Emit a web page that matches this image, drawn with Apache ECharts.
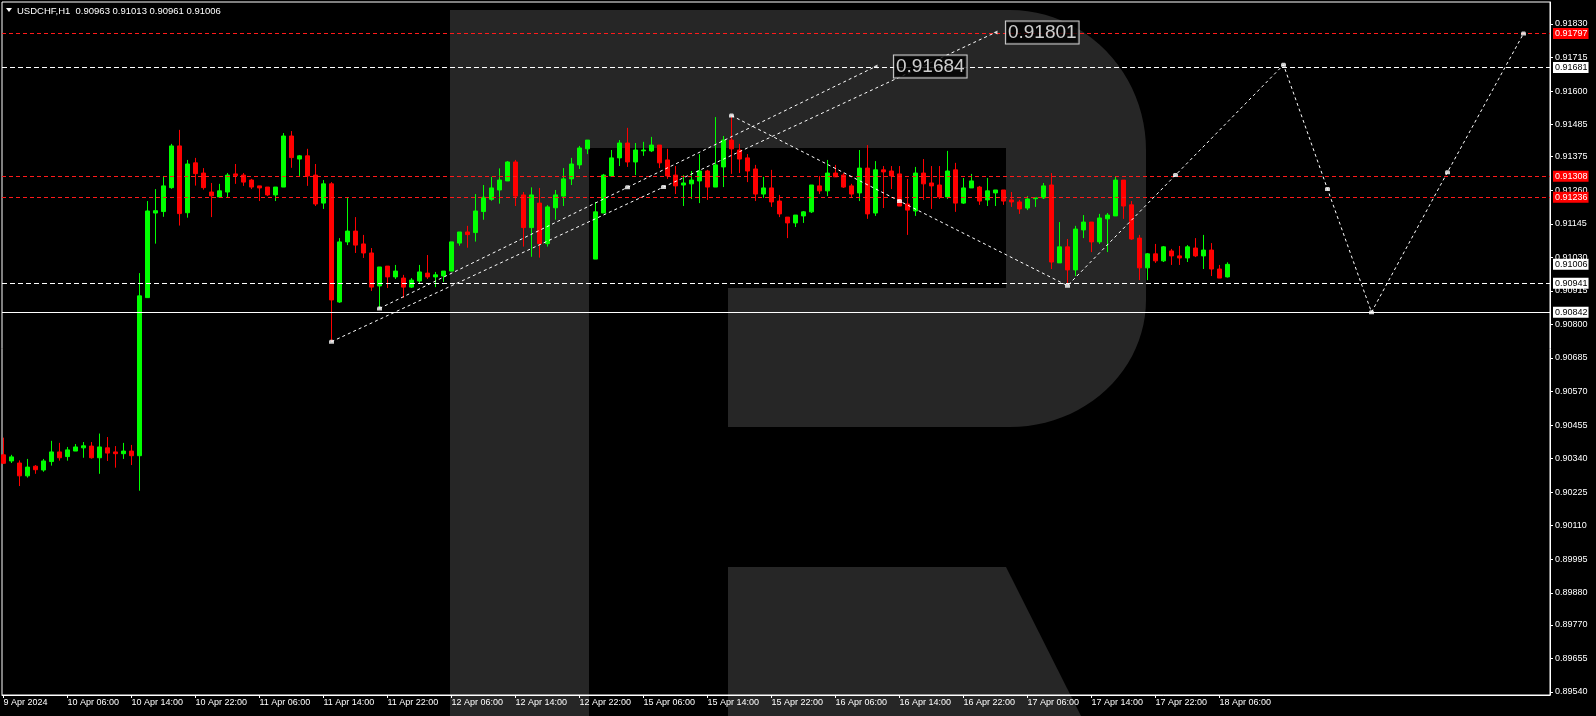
<!DOCTYPE html>
<html><head><meta charset="utf-8">
<script src="https://cdn.jsdelivr.net/npm/echarts@6/dist/echarts.min.js"></script>
<style>html,body{margin:0;padding:0;background:#000;}#c{width:1596px;height:716px;}</style>
</head><body><div id="c"></div>
<script>
// ---------- data ----------
const symbolName = 'USDCHF,H1';
const xTickLabels = ['9 Apr 2024','10 Apr 06:00','10 Apr 14:00','10 Apr 22:00','11 Apr 06:00','11 Apr 14:00','11 Apr 22:00','12 Apr 06:00','12 Apr 14:00','12 Apr 22:00','15 Apr 06:00','15 Apr 14:00','15 Apr 22:00','16 Apr 06:00','16 Apr 14:00','16 Apr 22:00','17 Apr 06:00','17 Apr 14:00','17 Apr 22:00','18 Apr 06:00'];
const xTickStep = 8; // one label every 8 hourly bars
const yTickLabels = ['0.91830','0.91715','0.91600','0.91485','0.91375','0.91260','0.91145','0.91030','0.90915','0.90800','0.90685','0.90570','0.90455','0.90340','0.90225','0.90110','0.89995','0.89880','0.89770','0.89655','0.89540'];
// hourly bars [open, high, low, close]
const bars = [
[0.90353,0.90412,0.90322,0.90324],[0.90332,0.90353,0.90325,0.90346],[0.90325,0.90334,0.90246,0.90281],[0.90281,0.90339,0.90275,0.90311],
[0.90314,0.90318,0.90288,0.90302],[0.90301,0.90339,0.90295,0.90332],[0.90330,0.90401,0.90316,0.90363],[0.90363,0.90394,0.90333,0.90343],
[0.90347,0.90380,0.90333,0.90370],[0.90366,0.90390,0.90366,0.90380],[0.90377,0.90397,0.90343,0.90384],[0.90383,0.90397,0.90340,0.90343],
[0.90343,0.90426,0.90288,0.90380],[0.90377,0.90414,0.90332,0.90359],[0.90363,0.90383,0.90309,0.90357],[0.90357,0.90394,0.90339,0.90366],
[0.90366,0.90387,0.90318,0.90350],[0.90350,0.90976,0.90230,0.90898],[0.90892,0.91223,0.90892,0.91189],[0.91182,0.91264,0.91077,0.91190],
[0.91187,0.91309,0.91169,0.91275],[0.91269,0.91419,0.91265,0.91412],[0.91412,0.91467,0.91139,0.91180],[0.91183,0.91364,0.91166,0.91350],
[0.91354,0.91371,0.91276,0.91317],[0.91319,0.91336,0.91262,0.91269],[0.91254,0.91285,0.91168,0.91241],[0.91237,0.91282,0.91237,0.91258],
[0.91254,0.91319,0.91237,0.91312],[0.91316,0.91350,0.91282,0.91310],[0.91312,0.91319,0.91275,0.91288],[0.91295,0.91299,0.91264,0.91271],
[0.91275,0.91275,0.91223,0.91268],[0.91271,0.91271,0.91240,0.91244],[0.91244,0.91271,0.91223,0.91271],[0.91271,0.91456,0.91271,0.91446],
[0.91446,0.91463,0.91337,0.91372],[0.91367,0.91381,0.91309,0.91378],[0.91378,0.91402,0.91275,0.91309],[0.91312,0.91350,0.91206,0.91213],
[0.91216,0.91295,0.91196,0.91282],[0.91282,0.91288,0.90741,0.90884],[0.90877,0.91096,0.90874,0.91083],[0.91083,0.91234,0.91072,0.91120],
[0.91120,0.91168,0.91045,0.91072],[0.91076,0.91107,0.91028,0.91045],[0.91045,0.91062,0.90915,0.90928],[0.90932,0.90997,0.90856,0.90997],
[0.91000,0.91000,0.90925,0.90963],[0.90963,0.91004,0.90956,0.90983],[0.90959,0.90970,0.90891,0.90928],[0.90928,0.90959,0.90925,0.90952],
[0.90949,0.91004,0.90942,0.90980],[0.90976,0.91038,0.90956,0.90963],[0.90963,0.90980,0.90928,0.90970],[0.90966,0.90983,0.90946,0.90983],
[0.90983,0.91083,0.90983,0.91083],[0.91079,0.91117,0.91070,0.91117],[0.91117,0.91138,0.91063,0.91108],[0.91115,0.91247,0.91084,0.91189],
[0.91187,0.91278,0.91159,0.91236],[0.91229,0.91306,0.91224,0.91268],[0.91261,0.91335,0.91214,0.91295],[0.91292,0.91360,0.91292,0.91357],
[0.91357,0.91364,0.91206,0.91240],[0.91244,0.91254,0.91067,0.91132],[0.91132,0.91270,0.91032,0.91244],[0.91216,0.91268,0.91029,0.91077],
[0.91077,0.91209,0.91067,0.91203],[0.91200,0.91261,0.91159,0.91244],[0.91240,0.91336,0.91206,0.91299],[0.91299,0.91371,0.91278,0.91350],
[0.91347,0.91412,0.91333,0.91405],[0.91402,0.91432,0.91384,0.91432],[0.91024,0.91220,0.91024,0.91186],[0.91182,0.91316,0.91182,0.91312],
[0.91309,0.91398,0.91309,0.91371],[0.91371,0.91432,0.91343,0.91422],[0.91422,0.91474,0.91340,0.91357],[0.91357,0.91422,0.91312,0.91398],
[0.91395,0.91426,0.91378,0.91398],[0.91395,0.91443,0.91391,0.91415],[0.91415,0.91415,0.91336,0.91354],[0.91364,0.91402,0.91299,0.91309],
[0.91312,0.91343,0.91247,0.91275],[0.91278,0.91312,0.91206,0.91285],[0.91282,0.91326,0.91230,0.91295],[0.91292,0.91384,0.91216,0.91326],
[0.91326,0.91330,0.91227,0.91271],[0.91271,0.91511,0.91271,0.91347],[0.91340,0.91446,0.91271,0.91432],[0.91432,0.91515,0.91316,0.91402],
[0.91398,0.91419,0.91319,0.91367],[0.91371,0.91384,0.91288,0.91326],[0.91333,0.91347,0.91223,0.91247],[0.91247,0.91306,0.91234,0.91268],
[0.91268,0.91330,0.91203,0.91220],[0.91223,0.91244,0.91168,0.91179],[0.91168,0.91168,0.91096,0.91148],[0.91148,0.91175,0.91134,0.91175],
[0.91172,0.91189,0.91148,0.91186],[0.91186,0.91278,0.91182,0.91278],[0.91275,0.91309,0.91247,0.91258],[0.91258,0.91364,0.91240,0.91319],
[0.91319,0.91347,0.91306,0.91306],[0.91312,0.91319,0.91268,0.91271],[0.91275,0.91282,0.91237,0.91247],[0.91251,0.91398,0.91223,0.91336],
[0.91336,0.91415,0.91162,0.91179],[0.91182,0.91360,0.91172,0.91330],[0.91330,0.91343,0.91199,0.91323],[0.91326,0.91343,0.91264,0.91309],
[0.91316,0.91343,0.91206,0.91206],[0.91213,0.91299,0.91107,0.91192],[0.91189,0.91340,0.91172,0.91319],[0.91319,0.91367,0.91227,0.91282],
[0.91285,0.91343,0.91196,0.91275],[0.91278,0.91343,0.91230,0.91237],[0.91237,0.91395,0.91230,0.91326],[0.91330,0.91354,0.91186,0.91216],
[0.91216,0.91302,0.91213,0.91268],[0.91268,0.91316,0.91268,0.91292],[0.91271,0.91275,0.91210,0.91223],[0.91227,0.91302,0.91206,0.91258],
[0.91251,0.91261,0.91206,0.91261],[0.91261,0.91261,0.91210,0.91223],[0.91227,0.91254,0.91203,0.91220],[0.91220,0.91227,0.91179,0.91196],
[0.91199,0.91240,0.91192,0.91230],[0.91231,0.91234,0.91203,0.91234],[0.91234,0.91285,0.91230,0.91275],[0.91278,0.91319,0.90990,0.91014],
[0.91011,0.91151,0.91011,0.91066],[0.91066,0.91093,0.90939,0.90987],[0.90987,0.91138,0.90966,0.91127],[0.91124,0.91175,0.91096,0.91151],
[0.91151,0.91151,0.91048,0.91083],[0.91083,0.91179,0.91076,0.91165],[0.91162,0.91182,0.91048,0.91175],[0.91172,0.91306,0.91172,0.91295],
[0.91295,0.91295,0.91162,0.91206],[0.91210,0.91223,0.91090,0.91093],[0.91096,0.91107,0.90952,0.90994],[0.90994,0.91045,0.90952,0.91042],
[0.91042,0.91076,0.91011,0.91018],[0.91018,0.91069,0.91014,0.91066],[0.91052,0.91059,0.91004,0.91035],[0.91035,0.91069,0.91004,0.91028],
[0.91028,0.91072,0.91014,0.91066],[0.91062,0.91096,0.91031,0.91035],[0.91035,0.91107,0.90990,0.91055],[0.91055,0.91079,0.90966,0.90990],
[0.90990,0.91004,0.90959,0.90959],[0.90963,0.91013,0.90961,0.91006]
];
const redLevels = [0.91797, 0.91308, 0.91236];
const whiteDashedLevels = [0.91681, 0.90941];
const whiteSolidLevels = [0.90842];
// forecast drawings: [bar index, price]
const channelUpper = [[47,0.90855],[78,0.91270],[109,0.91684]];
const channelLower = [[41,0.90741],[82.5,0.91271],[124,0.91801]];
const zigzag = [[91,0.91516],[112,0.91223],[133,0.90933],[146.5,0.91312],[160,0.91690],[165.5,0.91264],[171,0.90842],[180.5,0.91322],[190,0.91797]];
const targetTags = [[125.3,0.91801],[111.3,0.91684]];

// ---------- chart ----------
const FONT = 'Liberation Sans';
const chart = echarts.init(document.getElementById('c'), null, {renderer:'canvas'});
const last = bars[bars.length-1];
const bid = last[3];
const xTickValues = xTickLabels.map((_, k) => k * xTickStep);
const yTickValues = yTickLabels.map(Number);

function levelItem(v, color, type, bg, fg){
  return {yAxis: v, lineStyle:{color: color, type: type, width:1},
    label:{show:true, position:'end', distance:3, formatter: () => v.toFixed(5),
      backgroundColor: bg, color: fg, fontSize:9, fontFamily: FONT, padding:[1,1,0,2], lineHeight:10}};
}
const levelData = []
  .concat(redLevels.map(v => levelItem(v, '#ff1a1a', [4,3], '#ff0000', '#ffffff')))
  .concat(whiteDashedLevels.map(v => levelItem(v, '#ffffff', [5,3], '#ffffff', '#000')))
  .concat(whiteSolidLevels.map(v => levelItem(v, '#ffffff', 'solid', '#ffffff', '#000')))
  .concat([levelItem(bid, 'rgba(0,0,0,0)', 'solid', '#ffffff', '#000')]);

// R logo shape (decorative watermark)
function ellArc(cx, cy, rx, ry, a0, a1, n){
  const pts = [];
  for (let k = 0; k <= n; k++){ const a = (a0 + (a1-a0)*k/n) * Math.PI/180; pts.push([cx + rx*Math.cos(a), cy + ry*Math.sin(a)]); }
  return pts;
}
const logoGray = '#262626';
const bowl = [[450,10],[1010,10]]
  .concat(ellArc(1010, 150, 136, 140, -90, 0, 24))
  .concat(ellArc(1010, 300, 136, 127, 0, 90, 24))
  .concat([[728,427],[728,288],[589,288],[589,716],[450,716]]);

const markerPts = [channelUpper[0], channelUpper[1], channelLower[0], channelLower[1]].concat(zigzag);
const endPts = [channelUpper[2], channelLower[2]];
const dotted = {color:'#fff', width:1, type:[3,3]};

chart.setOption({
  backgroundColor:'#000',
  animation:false,
  title:{text: symbolName + '  ' + last.map(v => v.toFixed(5)).join(' '), left:17, top:6, padding:0,
    textStyle:{color:'#fff', fontSize:9.5, fontWeight:'normal', fontFamily:FONT}},
  graphic:{elements:[
    {type:'polygon', silent:true, z:-10, shape:{points: bowl}, style:{fill: logoGray}},
    {type:'rect', silent:true, z:-9, shape:{x:589, y:148, width:417, height:140}, style:{fill:'#000'}},
    {type:'polygon', silent:true, z:-10, shape:{points:[[728,567],[1006,567],[1081,716],[728,716]]}, style:{fill: logoGray}},
    {type:'polygon', silent:true, shape:{points:[[6,8],[12,8],[9,12]]}, style:{fill:'#fff'}}
  ]},
  grid:{left:2, top:2, right:46, bottom:21, show:true, borderColor:'#fff', borderWidth:1, backgroundColor:'transparent'},
  xAxis:{type:'value', min:-0.1875, max:193.3125,
    axisLine:{show:true, onZero:false, lineStyle:{color:'#fff'}},
    axisTick:{show:true, length:3, lineStyle:{color:'#fff'}, customValues: xTickValues},
    axisLabel:{customValues: xTickValues, formatter: v => xTickLabels[Math.round(v / xTickStep)] || '',
      color:'#fff', fontSize:9, fontFamily:FONT, align:'left', margin:3},
    splitLine:{show:false}},
  yAxis:{type:'value', position:'right', min:0.895297, max:0.919054,
    axisLine:{show:true, onZero:false, lineStyle:{color:'#fff'}},
    axisTick:{show:true, length:3, lineStyle:{color:'#fff'}, customValues: yTickValues},
    axisLabel:{customValues: yTickValues, formatter: v => v.toFixed(5), color:'#fff', fontSize:9, fontFamily:FONT, margin:5},
    splitLine:{show:false}},
  series:[
    {type:'candlestick', name:'USDCHF', barWidth:4,
      data: bars.map((b, i) => [i, b[0], b[3], b[2], b[1]]),
      encode:{x:0, y:[1,2,3,4]},
      itemStyle:{color:'#00ff00', color0:'#ff0000', borderColor:'#00ff00', borderColor0:'#ff0000', borderWidth:1}
    },
    {type:'line', name:'levels', data: [[0, bid]], showSymbol:false, silent:true, lineStyle:{width:0, opacity:0}, z:4,
      markLine:{silent:true, precision:5, symbol:['none','none'], animation:false, data: levelData}},
    {type:'line', data: channelUpper, showSymbol:false, silent:true, lineStyle: dotted, z:5},
    {type:'line', data: channelLower, showSymbol:false, silent:true, lineStyle: dotted, z:5},
    {type:'line', data: zigzag, showSymbol:false, silent:true, lineStyle: dotted, z:5},
    {type:'scatter', data: markerPts, silent:true, z:6, symbol:'path://M1,0 L4,0 L5,1 L5,4 L0,4 L0,1 Z', symbolSize:[5,4], itemStyle:{color:'#fff'}},
    {type:'scatter', data: endPts, silent:true, z:6, symbol:'triangle', symbolRotate:90, symbolSize:[4,4], itemStyle:{color:'#fff'}},
    {type:'scatter', data: targetTags, silent:true, z:7, symbolSize:0,
      label:{show:true, position:'right', distance:0, formatter: p => p.value[1].toFixed(5),
        color:'#fff', fontSize:19, fontFamily:FONT, backgroundColor:'#000', borderColor:'#fff', borderWidth:1, padding:[2,2,1,2], lineHeight:19}}
  ]
});
</script></body></html>
